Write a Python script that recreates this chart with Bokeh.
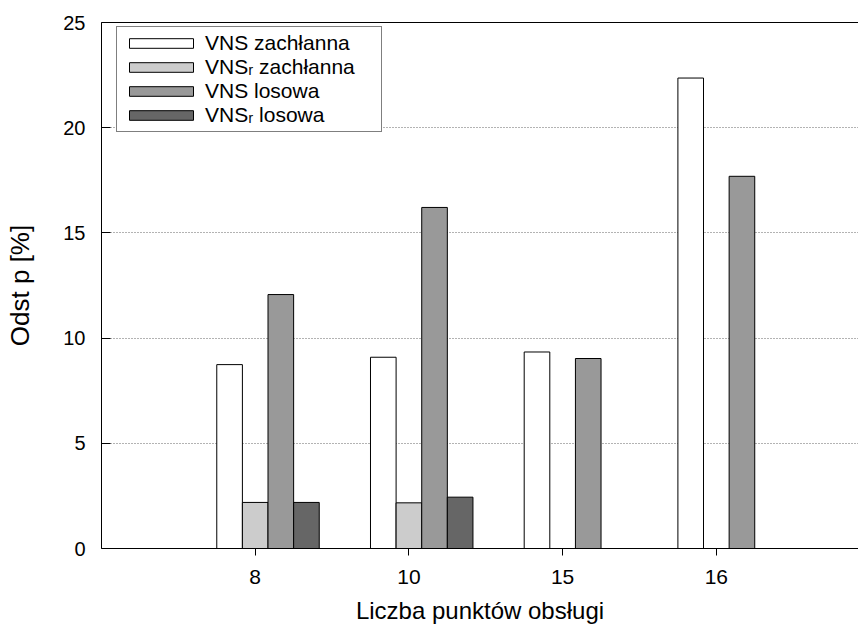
import math
from bokeh.plotting import figure
from bokeh.models import (Range1d, FixedTicker, LinearAxis, Legend, LegendItem,
                          ColumnDataSource)
from bokeh.transform import dodge
from bokeh.embed import file_html
from bokeh.resources import INLINE

nan = float("nan")

# ---- data ----
categories = ["8", "10", "15", "16"]
vns_zachlanna = [8.74, 9.09, 9.34, 22.36]
vnsr_zachlanna = [2.19, 2.17, nan, nan]
vns_losowa = [12.07, 16.21, 9.03, 17.69]
vnsr_losowa = [2.19, 2.44, nan, nan]

series_labels = ["VNS zachłanna", "VNSᵣ zachłanna", "VNS losowa", "VNSᵣ losowa"]
series_keys = ["vns_z", "vnsr_z", "vns_l", "vnsr_l"]
series_colors = ["#ffffff", "#cccccc", "#999999", "#666666"]
y_ticks = [0, 5, 10, 15, 20, 25]

FONT = "Liberation Sans"

positions = list(range(1, len(categories) + 1))
source = ColumnDataSource(dict(
    x=positions,
    vns_z=vns_zachlanna,
    vnsr_z=vnsr_zachlanna,
    vns_l=vns_losowa,
    vnsr_l=vnsr_losowa,
))

p = figure(width=858, height=626,
           x_range=Range1d(0, 4.925), y_range=Range1d(0, 25),
           output_backend="svg", toolbar_location=None,
           min_border_left=101, min_border_right=0,
           min_border_top=22, min_border_bottom=77)

p.outline_line_color = None
p.background_fill_color = "white"
p.border_fill_color = "white"

bar_w = 1.0 / 6.0
offsets = [-bar_w, 0.0, bar_w, 2 * bar_w]
renderers = []
for key, off, col in zip(series_keys, offsets, series_colors):
    r = p.vbar(x=dodge("x", off, range=p.x_range), top=key, bottom=0,
               width=bar_w, source=source, fill_color=col,
               line_color="black", line_width=1)
    renderers.append(r)

# axes
xa = p.xaxis[0]
xa.ticker = FixedTicker(ticks=positions)
xa.major_label_overrides = {pos: c for pos, c in zip(positions, categories)}
xa.major_tick_in = 0
xa.major_tick_out = 7
xa.minor_tick_line_color = None
xa.major_label_standoff = 14
xa.major_label_text_font = FONT
xa.major_label_text_font_size = "21px"
xa.major_label_text_color = "black"
xa.axis_label = "Liczba punktów obsługi"
xa.axis_label_text_font = FONT
xa.axis_label_text_font_size = "24px"
xa.axis_label_text_font_style = "normal"
xa.axis_label_text_color = "black"
xa.axis_label_standoff = 10
xa.axis_line_color = "black"
xa.major_tick_line_color = "black"

ya = p.yaxis[0]
ya.ticker = FixedTicker(ticks=y_ticks)
ya.major_tick_in = 9
ya.major_tick_out = 0
ya.minor_tick_line_color = None
ya.major_label_standoff = 16
ya.major_label_text_font = FONT
ya.major_label_text_font_size = "20px"
ya.major_label_text_color = "black"
ya.axis_label = "Odst p [%]"
ya.axis_label_text_font = FONT
ya.axis_label_text_font_size = "26px"
ya.axis_label_text_font_style = "normal"
ya.axis_label_text_color = "black"
ya.axis_label_standoff = 25
ya.axis_line_color = "black"
ya.major_tick_line_color = "black"

top_axis = LinearAxis(ticker=FixedTicker(ticks=[]), major_tick_in=0,
                      major_tick_out=0, minor_tick_line_color=None,
                      major_label_standoff=0, major_label_text_font_size="0px",
                      axis_line_color="black")
p.add_layout(top_axis, "above")

# grid
p.xgrid.grid_line_color = None
p.ygrid.ticker = FixedTicker(ticks=y_ticks[1:-1])
p.ygrid.grid_line_color = "#666666"
p.ygrid.grid_line_dash = "1 2"
p.ygrid.grid_line_width = 1

# legend
legend = Legend(items=[LegendItem(label=lab, renderers=[r])
                       for lab, r in zip(series_labels, renderers)],
                location=(15, 416), glyph_width=80, glyph_height=12,
                label_text_font=FONT, label_text_font_size="21px",
                label_text_color="black", spacing=0, padding=4,
                label_standoff=4, label_width=172, margin=0,
                border_line_color="black", border_line_width=1,
                background_fill_color="white", background_fill_alpha=1.0)
p.add_layout(legend)

open("out.html", "w").write(file_html(p, INLINE))
